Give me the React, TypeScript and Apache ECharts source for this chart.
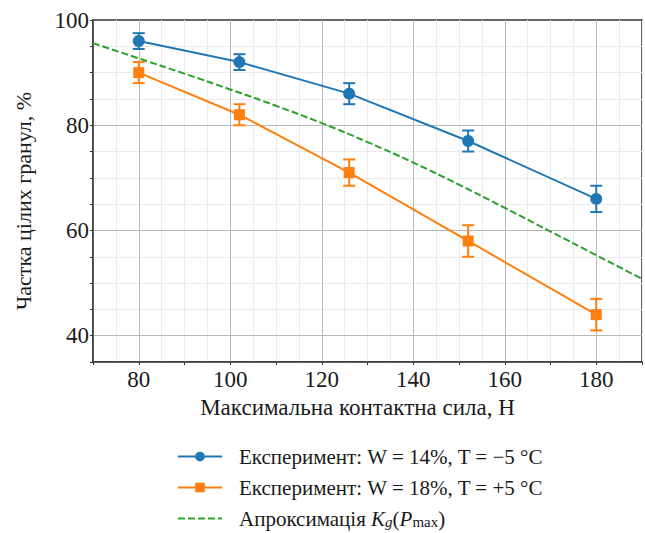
import React, { useEffect, useRef } from "react";
import * as echarts from "echarts";

const forceX = [80, 102, 126, 152, 180];
const blueY = [96, 92, 86, 77, 66];
const blueErr = [1.5, 1.5, 2, 2, 2.5];
const orangeY = [90, 82, 71, 58, 44];
const orangeErr = [2, 2, 2.5, 3, 3];
const approxX = [70, 80, 90, 100, 110, 120, 130, 140, 150, 160, 170, 180, 190];
const approxY = [95.6, 92.7, 89.8, 86.8, 83.7, 80.4, 76.8, 72.9, 68.7, 64.3, 59.8, 55.3, 50.8];
const xMajorTicks = [80, 100, 120, 140, 160, 180];
const yMajorTicks = [40, 60, 80, 100];

const nameBlue = "Експеримент: W = 14%, T = −5 °C";
const nameOrange = "Експеримент: W = 18%, T = +5 °C";
const nameApprox = "Апроксимація Kg(Pmax)";
const xTitle = "Максимальна контактна сила, Н";
const yTitle = "Частка цілих гранул, %";

const FONT = "Liberation Serif";
const BLUE = "#1f77b4";
const ORANGE = "#ff7f0e";
const GREEN = "#2ca02c";

const X_MIN = 70, X_MAX = 190, Y_MIN = 35, Y_MAX = 100;

function errorSeries(name: string, ys: number[], errs: number[], color: string) {
  return {
    type: "custom",
    name: name + "_err",
    z: 3,
    silent: true,
    encode: { x: 0, y: 1 },
    data: forceX.map((x, i) => [x, ys[i], errs[i]]),
    renderItem: (params: any, api: any) => {
      const x = api.value(0), y = api.value(1), e = api.value(2);
      const top = api.coord([x, y + e]);
      const bot = api.coord([x, y - e]);
      const hw = 6;
      const st = { stroke: color, lineWidth: 2 };
      return {
        type: "group",
        children: [
          { type: "line", shape: { x1: top[0], y1: top[1], x2: bot[0], y2: bot[1] }, style: st },
          { type: "line", shape: { x1: top[0] - hw, y1: top[1], x2: top[0] + hw, y2: top[1] }, style: st },
          { type: "line", shape: { x1: bot[0] - hw, y1: bot[1], x2: bot[0] + hw, y2: bot[1] }, style: st },
        ],
      };
    },
  };
}

export default function App() {
  const ref = useRef<HTMLDivElement>(null);
  useEffect(() => {
    if (!ref.current) return;
    const chart = echarts.init(ref.current, null, { renderer: "svg" });
    const minorX: number[] = [];
    for (let v = X_MIN; v <= X_MAX; v += 5) if (!xMajorTicks.includes(v)) minorX.push(v);
    const minorY: number[] = [];
    for (let v = Y_MIN; v <= Y_MAX; v += 5) if (!yMajorTicks.includes(v)) minorY.push(v);
    const minorStyle = { color: "#ebebeb", width: 1, type: "solid" };
    const majorStyle = { color: "#b8b8b8", width: 1, type: "solid" };
    const gridLines = [
      ...minorX.map((v) => ({ xAxis: v, lineStyle: minorStyle })),
      ...minorY.map((v) => ({ yAxis: v, lineStyle: minorStyle })),
      ...xMajorTicks.map((v) => ({ xAxis: v, lineStyle: majorStyle })),
      ...yMajorTicks.filter((v) => v < Y_MAX).map((v) => ({ yAxis: v, lineStyle: majorStyle })),
    ];
    chart.setOption({
      animation: false,
      backgroundColor: "#ffffff",
      grid: {
        left: 93,
        top: 20,
        width: 563,
        height: 342,
        show: true,
        borderColor: "#333",
        borderWidth: 1.5,
        backgroundColor: "transparent",
      },
      xAxis: {
        type: "value",
        min: X_MIN,
        max: X_MAX,
        interval: 10,
        axisLine: { show: true, onZero: false, lineStyle: { color: "#333", width: 1.5 } },
        axisTick: { show: true, length: 3, lineStyle: { color: "#333" } },
        axisLabel: {
          formatter: (v: number) => (xMajorTicks.includes(v) ? String(v) : ""),
          fontFamily: FONT,
          fontSize: 23,
          color: "#1a1a1a",
          margin: 6,
        },
        splitLine: { show: false },
        name: xTitle,
        nameLocation: "middle",
        nameGap: 29,
        nameTextStyle: { fontFamily: FONT, fontSize: 23, color: "#1a1a1a", padding: [0, 20, 0, 0], verticalAlign: "top" },
      },
      yAxis: {
        type: "value",
        min: Y_MIN,
        max: Y_MAX,
        interval: 5,
        axisLine: { show: true, onZero: false, lineStyle: { color: "#333", width: 1.5 } },
        axisTick: { show: true, length: 3, lineStyle: { color: "#333" } },
        axisLabel: {
          formatter: (v: number) => (yMajorTicks.includes(v) ? String(v) : ""),
          fontFamily: FONT,
          fontSize: 23,
          color: "#1a1a1a",
          margin: 4,
        },
        splitLine: { show: false },
        name: yTitle,
        nameLocation: "middle",
        nameGap: 59,
        nameRotate: 90,
        nameTextStyle: { fontFamily: FONT, fontSize: 22, color: "#1a1a1a", padding: [0, 20, 0, 0] },
      },
      legend: {
        orient: "vertical",
        left: 177,
        top: 446,
        padding: 0,
        itemWidth: 44,
        itemHeight: 12,
        itemGap: 10,
        data: [
          { name: nameBlue },
          { name: nameOrange },
          { name: nameApprox, itemStyle: { opacity: 0 } },
        ],
        formatter: (name: string) =>
          name === nameApprox ? "Апроксимація {i|K}{si|g}({i|P}{s|max})" : name,
        textStyle: {
          fontFamily: FONT,
          fontSize: 21,
          lineHeight: 21,
          color: "#1a1a1a",
          padding: [0, 0, 0, 12],
          rich: {
            i: { fontFamily: FONT, fontSize: 21, fontStyle: "italic", color: "#1a1a1a", lineHeight: 21 },
            si: { fontFamily: FONT, fontSize: 15, fontStyle: "italic", color: "#1a1a1a", lineHeight: 13, verticalAlign: "bottom" },
            s: { fontFamily: FONT, fontSize: 15, color: "#1a1a1a", lineHeight: 13, verticalAlign: "bottom" },
          },
        },
      },
      series: [
        {
          type: "line",
          name: "gridlines",
          data: [],
          silent: true,
          z: 0,
          markLine: {
            silent: true,
            z: 0,
            symbol: ["none", "none"],
            label: { show: false },
            animation: false,
            data: gridLines,
          },
        },
        {
          type: "line",
          name: nameApprox,
          data: approxX.map((x, i) => [x, approxY[i]]),
          smooth: true,
          symbol: "none",
          z: 2,
          lineStyle: { color: GREEN, width: 2, type: [7, 3] },
          itemStyle: { color: GREEN },
        },
        errorSeries(nameBlue, blueY, blueErr, BLUE),
        errorSeries(nameOrange, orangeY, orangeErr, ORANGE),
        {
          type: "line",
          name: nameBlue,
          data: forceX.map((x, i) => [x, blueY[i]]),
          symbol: "circle",
          symbolSize: 12,
          z: 4,
          lineStyle: { color: BLUE, width: 2 },
          itemStyle: { color: BLUE },
        },
        {
          type: "line",
          name: nameOrange,
          data: forceX.map((x, i) => [x, orangeY[i]]),
          symbol: "rect",
          symbolSize: 11,
          z: 4,
          lineStyle: { color: ORANGE, width: 2 },
          itemStyle: { color: ORANGE },
        },
      ],
    });
    return () => chart.dispose();
  }, []);
  return (
    <div
      ref={ref}
      style={{ position: "fixed", left: 0, top: 0, width: 645, height: 533, background: "#fff" }}
    />
  );
}
